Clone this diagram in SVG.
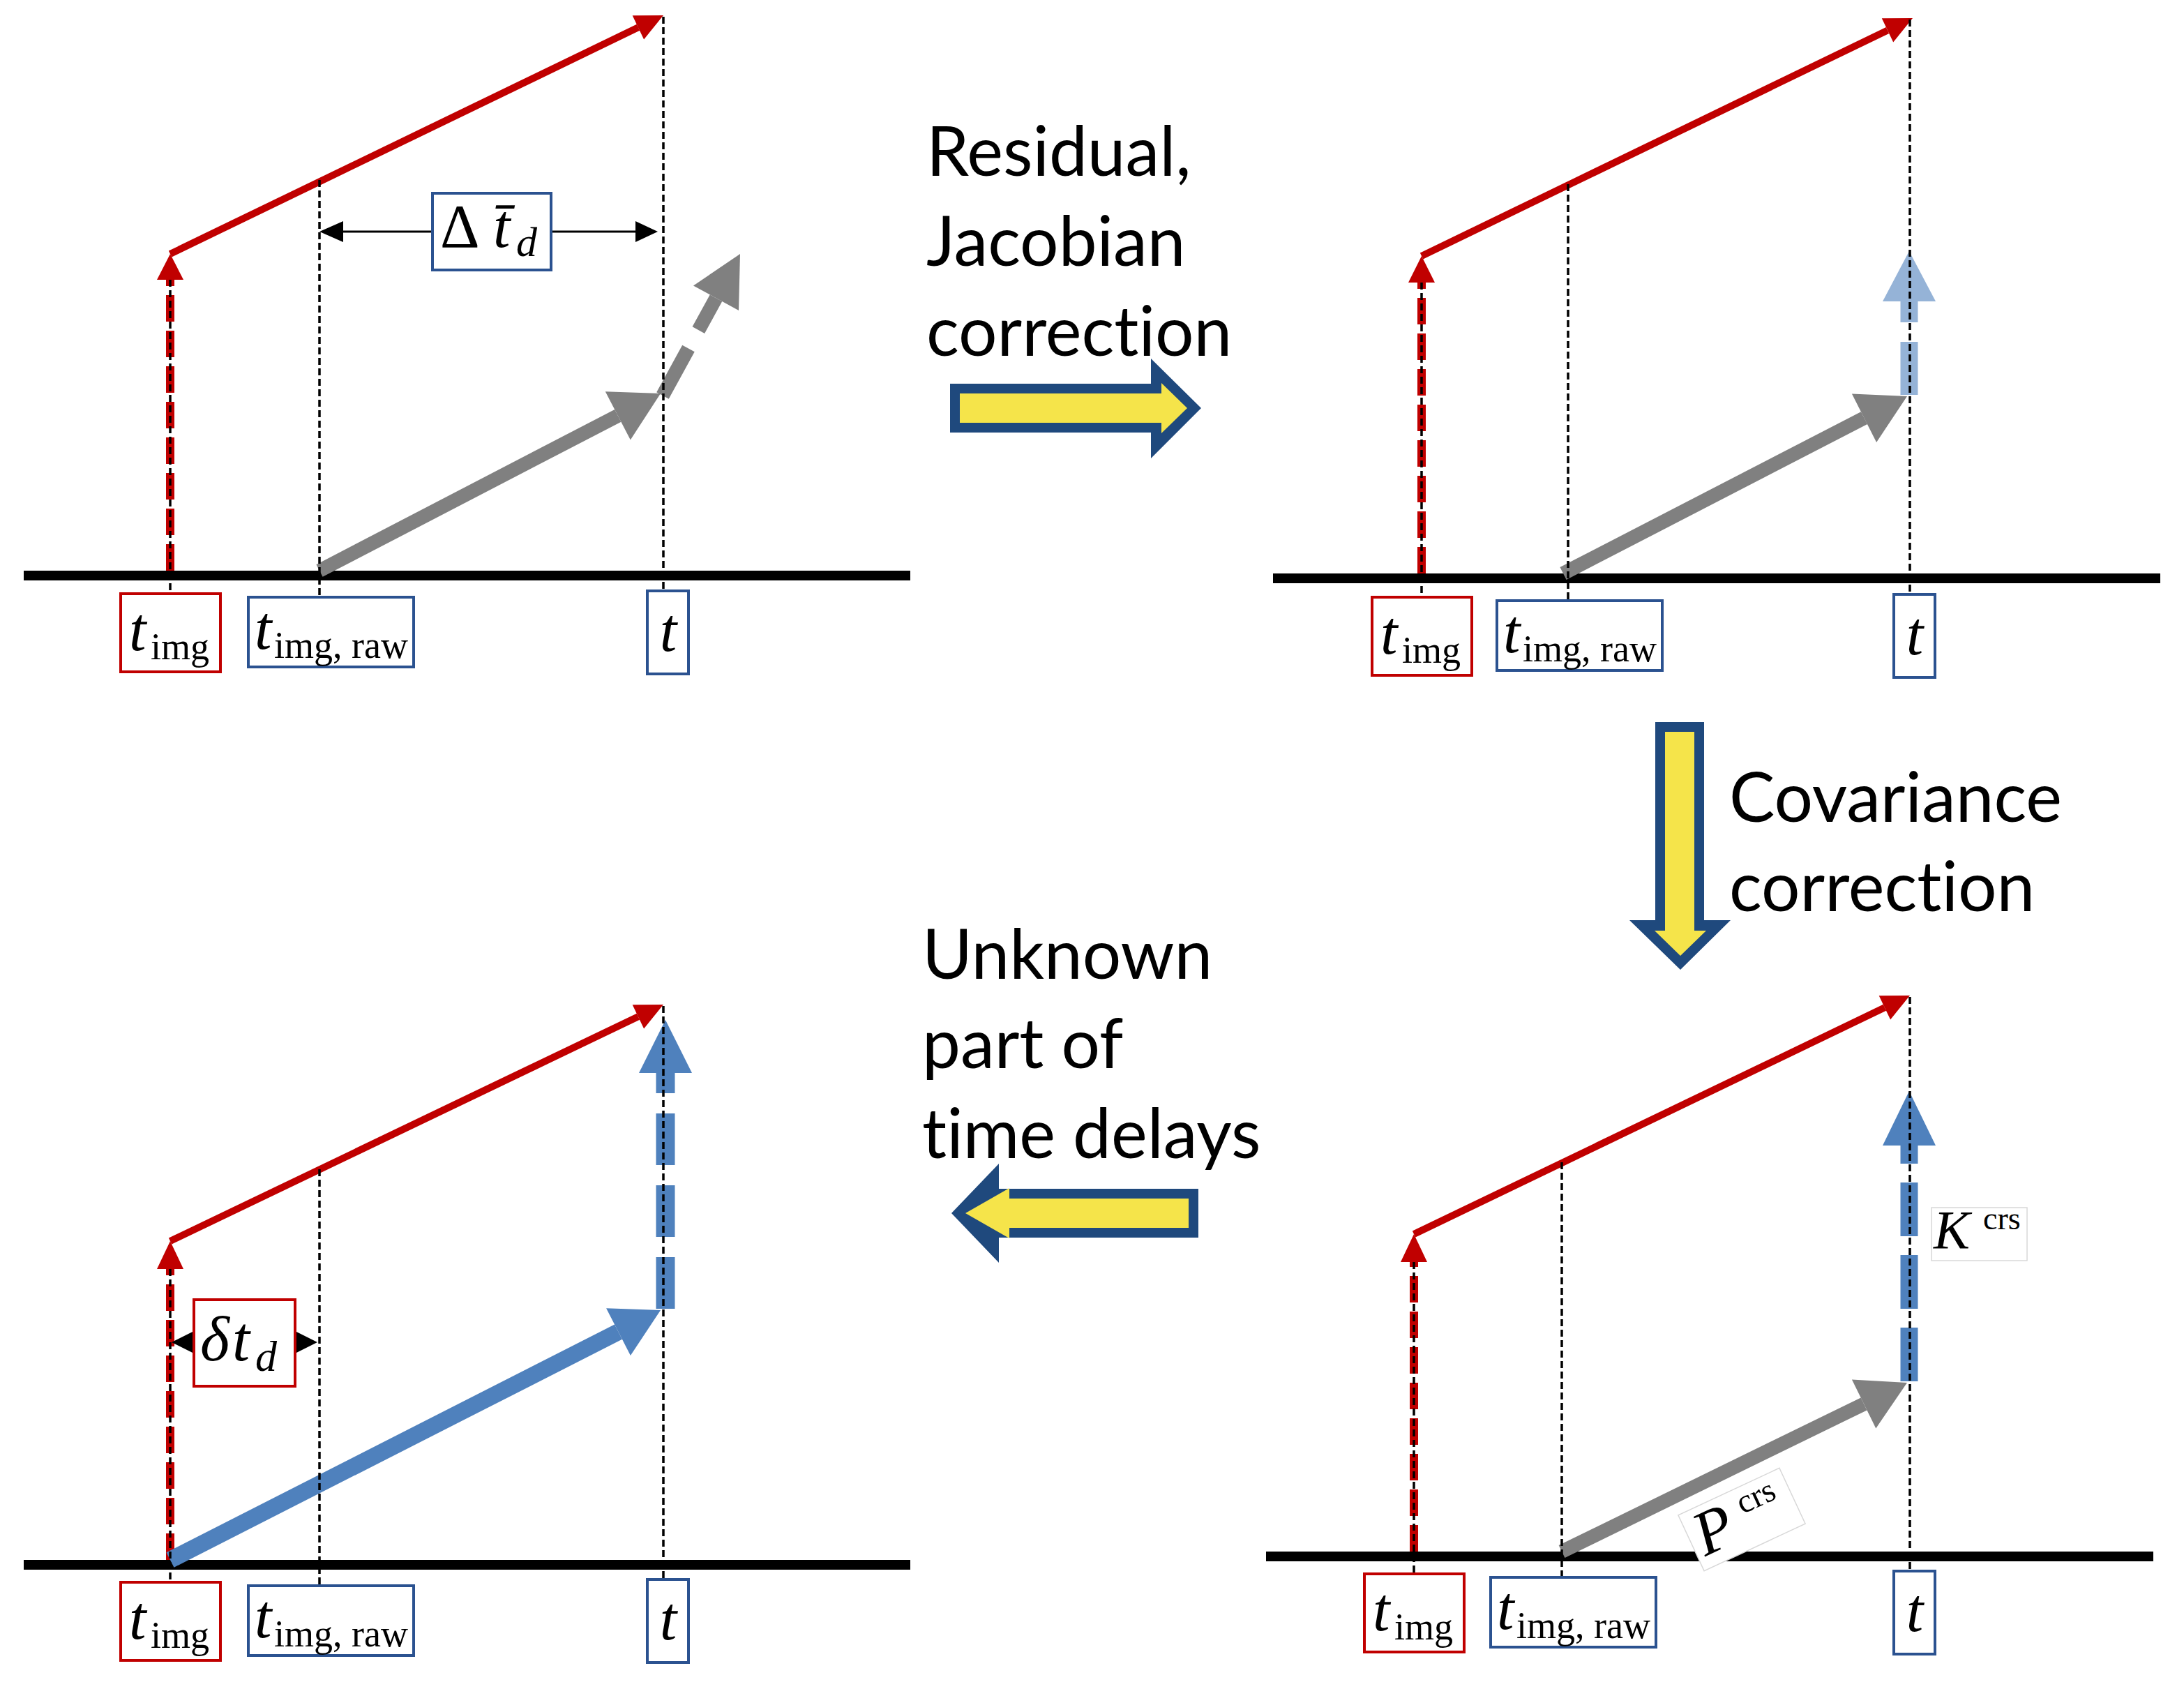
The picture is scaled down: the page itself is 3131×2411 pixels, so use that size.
<svg xmlns="http://www.w3.org/2000/svg" width="3131" height="2411" viewBox="0 0 3131 2411">
<style>
.axis{stroke:#000;stroke-width:14;fill:none}
.guide{stroke:#000;stroke-width:3.5;stroke-dasharray:10 5;fill:none}
.rdash{stroke:#c00000;stroke-width:12;stroke-dasharray:38 13;fill:none}
.rline{stroke:#c00000;stroke-width:10;fill:none}
.rfill{fill:#c00000}
.gline{stroke:#808080;stroke-width:20;fill:none}
.gfill{fill:#808080}
.bline{stroke:#4f81bd;stroke-width:24;fill:none}
.bfill{fill:#4f81bd}
.lbfill{fill:#95b3d7}
.kline{stroke:#000;stroke-width:3;fill:none}
.kfill{fill:#000}
.boxr{fill:#fff;stroke:#c00000;stroke-width:4}
.boxb{fill:#fff;stroke:#2b5290;stroke-width:4}
.boxg{fill:#fff;stroke:#d8d8d8;stroke-width:1.5}
.math{font-family:"Liberation Serif","Times New Roman",serif;fill:#000}
.it{font-style:italic}
.big{font-size:88px}
.sub{font-size:54px}
.word{font-family:Lato,"Open Sans",sans-serif;font-size:98px;fill:#000;font-variant-ligatures:none}
.bo{fill:#1f497d}
.bi{fill:#f5e44a}
</style>

<g id="axes">
<line class="axis" x1="34" y1="825" x2="1305" y2="825"/>
<line class="axis" x1="1825" y1="829" x2="3097" y2="829"/>
<line class="axis" x1="34" y1="2243" x2="1305" y2="2243"/>
<line class="axis" x1="1815" y1="2231" x2="3087" y2="2231"/>
</g>

<g id="connectors">
<!-- red dashed vertical arrows at t_img -->
<line class="rdash" x1="244" y1="818" x2="244" y2="401"/>
<polygon class="rfill" points="225,401 263,401 244,364"/>
<line class="rdash" x1="2038" y1="822" x2="2038" y2="405"/>
<polygon class="rfill" points="2019,405 2057,405 2038,367"/>
<line class="rdash" x1="244" y1="2236" x2="244" y2="1819"/>
<polygon class="rfill" points="225,1819 263,1819 244,1779"/>
<line class="rdash" x1="2027" y1="2224" x2="2027" y2="1809"/>
<polygon class="rfill" points="2008,1809 2046,1809 2027,1769"/>

<!-- red slanted arrows -->
<line class="rline" x1="244" y1="364" x2="915" y2="39.3"/>
<polygon class="rfill" points="951,22 923.1,56.4 906.7,22.2"/>
<line class="rline" x1="2038" y1="367" x2="2706" y2="43.4"/>
<polygon class="rfill" points="2742,26 2714.2,60.5 2697.8,26.3"/>
<line class="rline" x1="244" y1="1779" x2="914.9" y2="1457.3"/>
<polygon class="rfill" points="951,1440 923.1,1474.4 906.7,1440.2"/>
<line class="rline" x1="2027" y1="1769" x2="2701.9" y2="1444.3"/>
<polygon class="rfill" points="2738,1427 2710.1,1461.4 2693.7,1427.2"/>

<!-- gray arrows -->
<line class="gline" x1="458" y1="818" x2="885.8" y2="595.8"/>
<polygon class="gfill" points="947,564 903.8,630.4 867.8,561.2"/>
<line class="gline" x1="950" y1="567" x2="1026.5" y2="427.2" stroke-dasharray="77 30"/>
<polygon class="gfill" points="1061,364 1059,444.9 994,409.5"/>
<line class="gline" x1="2241" y1="822" x2="2672.5" y2="599.2"/>
<polygon class="gfill" points="2734,568 2690.1,634 2654.9,564.4"/>
<line class="gline" x1="2239" y1="2224" x2="2672.1" y2="2012.4"/>
<polygon class="gfill" points="2734,1982 2689.3,2047.4 2654.9,1977.4"/>

<!-- blue slanted arrow -->
<line class="bline" x1="244" y1="2236" x2="886.5" y2="1909.1"/>
<polygon class="bfill" points="947,1878 903.9,1942.9 869.1,1875.3"/>

<!-- vertical dashed corrections -->
<line x1="2737" y1="566" x2="2737" y2="432" stroke="#95b3d7" stroke-width="25" stroke-dasharray="76 28"/>
<polygon class="lbfill" points="2699,432 2775,432 2737,360"/>
<line x1="954" y1="1876" x2="954" y2="1538" stroke="#4f81bd" stroke-width="27" stroke-dasharray="74 29"/>
<polygon class="bfill" points="916,1538 992,1538 954,1462"/>
<line x1="2737" y1="1980" x2="2737" y2="1642" stroke="#4f81bd" stroke-width="25" stroke-dasharray="77 27"/>
<polygon class="bfill" points="2699,1642 2775,1642 2737,1564"/>

<!-- guide lines -->
<line class="guide" x1="244" y1="401" x2="244" y2="851"/>
<line class="guide" x1="458" y1="258" x2="458" y2="856"/>
<line class="guide" x1="951" y1="24" x2="951" y2="847"/>
<line class="guide" x1="2038" y1="405" x2="2038" y2="856"/>
<line class="guide" x1="2248" y1="264" x2="2248" y2="861"/>
<line class="guide" x1="2738" y1="28" x2="2738" y2="852"/>
<line class="guide" x1="244" y1="1819" x2="244" y2="2268"/>
<line class="guide" x1="458" y1="1676" x2="458" y2="2273"/>
<line class="guide" x1="951" y1="1442" x2="951" y2="2264"/>
<line class="guide" x1="2027" y1="1809" x2="2027" y2="2256"/>
<line class="guide" x1="2239" y1="1666" x2="2239" y2="2261"/>
<line class="guide" x1="2738" y1="1429" x2="2738" y2="2252"/>

<!-- delta t bar arrow -->
<line class="kline" x1="490" y1="332" x2="915" y2="332"/>
<polygon class="kfill" points="458,332 492,317 492,347"/>
<polygon class="kfill" points="943,332 911,317 911,347"/>
<!-- delta t_d arrow heads -->
<polygon class="kfill" points="246,1924 278,1908 278,1940"/>
<polygon class="kfill" points="455,1924 423,1908 423,1940"/>
</g>

<!-- panel 1 labels -->
<g id="p1-timg"><rect class="boxr" x="173" y="851" width="143" height="112"/><text class="math it big" x="185" y="932">t</text><text class="math sub" x="216" y="945">img</text></g>
<g id="p1-timgraw"><rect class="boxb" x="356" y="856" width="237" height="100"/><text class="math it big" x="365" y="930">t</text><text class="math sub" x="393" y="943">img, raw</text></g>
<g id="p1-t"><rect class="boxb" x="928" y="847" width="59" height="119"/><text class="math it big" x="958" y="933" text-anchor="middle">t</text></g>
<g id="p1-dtbar"><rect class="boxb" x="620" y="277" width="170" height="110"/><text class="math big" x="631" y="354">Δ</text><text class="math it big" x="707" y="354">t&#x0304;</text><text class="math it" x="740" y="367" font-size="60">d</text></g>

<!-- panel 2 labels -->
<g id="p2-timg"><rect class="boxr" x="1967" y="856" width="143" height="112"/><text class="math it big" x="1979" y="937">t</text><text class="math sub" x="2010" y="950">img</text></g>
<g id="p2-timgraw"><rect class="boxb" x="2146" y="861" width="237" height="100"/><text class="math it big" x="2155" y="935">t</text><text class="math sub" x="2183" y="948">img, raw</text></g>
<g id="p2-t"><rect class="boxb" x="2715" y="852" width="59" height="119"/><text class="math it big" x="2745" y="938" text-anchor="middle">t</text></g>

<!-- panel 3 labels -->
<g id="p3-timg"><rect class="boxr" x="173" y="2268" width="143" height="112"/><text class="math it big" x="185" y="2349">t</text><text class="math sub" x="216" y="2362">img</text></g>
<g id="p3-timgraw"><rect class="boxb" x="356" y="2273" width="237" height="100"/><text class="math it big" x="365" y="2347">t</text><text class="math sub" x="393" y="2360">img, raw</text></g>
<g id="p3-t"><rect class="boxb" x="928" y="2264" width="59" height="119"/><text class="math it big" x="958" y="2350" text-anchor="middle">t</text></g>
<g id="p3-dtd"><rect class="boxr" x="278" y="1863" width="145" height="124"/><text class="math it" x="287" y="1950" font-size="90">δ</text><text class="math it" x="333" y="1950" font-size="90">t</text><text class="math it" x="366" y="1965" font-size="62">d</text></g>

<!-- panel 4 labels -->
<g id="p4-timg"><rect class="boxr" x="1956" y="2256" width="143" height="112"/><text class="math it big" x="1968" y="2337">t</text><text class="math sub" x="1999" y="2350">img</text></g>
<g id="p4-timgraw"><rect class="boxb" x="2137" y="2261" width="237" height="100"/><text class="math it big" x="2146" y="2335">t</text><text class="math sub" x="2174" y="2348">img, raw</text></g>
<g id="p4-t"><rect class="boxb" x="2715" y="2252" width="59" height="119"/><text class="math it big" x="2745" y="2338" text-anchor="middle">t</text></g>
<g id="p4-kcrs"><rect class="boxg" x="2769" y="1731" width="137" height="76"/><text class="math it" x="2772" y="1789" font-size="78">K</text><text class="math" x="2843" y="1762" font-size="46">crs</text></g>
<g id="p4-pcrs" transform="translate(2497,2178) rotate(-25)"><rect class="boxg" x="-80" y="-44" width="160" height="88" stroke="#e6e6e6"/><text class="math it" x="-70" y="26" font-size="90">P</text><text class="math" x="4" y="-6" font-size="48">crs</text></g>

<!-- step arrows -->
<g id="step-residual">
<polygon class="bo" points="1362,550 1650,550 1650,514 1722,585 1650,657 1650,620 1362,620"/>
<polygon class="bi" points="1376,564 1665,564 1665,549 1702,585 1665,621 1665,606 1376,606"/>
<text class="word" x="1328" y="252">Residual,</text>
<text class="word" x="1328" y="381">Jacobian</text>
<text class="word" x="1328" y="510">correction</text>
</g>
<g id="step-covariance">
<polygon class="bo" points="2373,1035 2443,1035 2443,1319 2481,1319 2409,1390 2336,1319 2373,1319"/>
<polygon class="bi" points="2387,1049 2429,1049 2429,1334 2446,1334 2409,1370 2372,1334 2387,1334"/>
<text class="word" x="2479" y="1178">Covariance</text>
<text class="word" x="2479" y="1306">correction</text>
</g>
<g id="step-unknown">
<polygon class="bo" points="1718,1704 1432,1704 1432,1668 1364,1739 1432,1810 1432,1774 1718,1774"/>
<polygon class="bi" points="1704,1718 1447,1718 1447,1703 1384,1739 1447,1775 1447,1760 1704,1760"/>
<text class="word" x="1322" y="1403">Unknown</text>
<text class="word" x="1322" y="1531">part of</text>
<text class="word" x="1322" y="1660">time delays</text>
</g>
</svg>
